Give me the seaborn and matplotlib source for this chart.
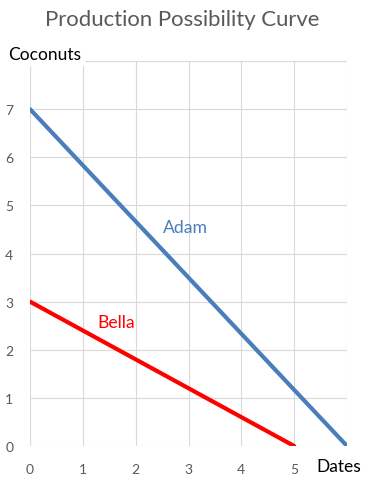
import matplotlib
matplotlib.use("Agg")
import matplotlib.pyplot as plt
import seaborn as sns
import pandas as pd

# Data
dates_adam = [0, 6]
coconuts_adam = [7, 0]
dates_bella = [0, 5]
coconuts_bella = [3, 0]
x_ticks = [0, 1, 2, 3, 4, 5]
y_ticks = [0, 1, 2, 3, 4, 5, 6, 7]

sns.set_style("white")
plt.rcParams['font.family'] = ['Lato', 'DejaVu Sans']

df = pd.concat([
    pd.DataFrame({"Dates": dates_adam, "Coconuts": coconuts_adam, "Person": "Adam"}),
    pd.DataFrame({"Dates": dates_bella, "Coconuts": coconuts_bella, "Person": "Bella"}),
])

fig = plt.figure(figsize=(3.65, 4.81), dpi=100)
ax = fig.add_axes([30/365, (481-447)/481, (347-30)/365, (447-62)/481])

sns.lineplot(data=df, x="Dates", y="Coconuts", hue="Person",
             palette={"Adam": "#4a7ebb", "Bella": "#ff0000"},
             linewidth=3, legend=False, ax=ax)

ax.set_xlim(0, 6)
ax.set_ylim(0, 8)
ax.set_xticks(range(0, 7))
ax.set_yticks(range(0, 9))
ax.set_xticklabels([str(v) for v in x_ticks] + [""])
ax.set_yticklabels([str(v) for v in y_ticks] + [""])
ax.grid(True, color="#d9d9d9", linewidth=0.8)
ax.set_axisbelow(True)
for s in ax.spines.values():
    s.set_visible(False)
ax.tick_params(axis="both", length=0, labelsize=10, labelcolor="#595959")
ax.tick_params(axis="x", pad=12)
ax.tick_params(axis="y", pad=12)
ax.set_xlabel("")
ax.set_ylabel("")

ax.text(2.95, 4.55, "Adam", color="#4a7ebb", fontsize=12.7, ha="center", va="center")
ax.text(1.63, 2.58, "Bella", color="#ff0000", fontsize=12.7, ha="center", va="center")

fig.text(8/365, 1 - 55/481, "Coconuts", fontsize=12.5, color="black", ha="left", va="center",
         bbox=dict(facecolor="white", edgecolor="none", pad=3))
fig.text(316/365, 1 - 467/481, "Dates", fontsize=12.5, color="black", ha="left", va="center",
         bbox=dict(facecolor="white", edgecolor="none", pad=2))
fig.text(0.5, 1 - 20/481, "Production Possibility Curve", fontsize=15.9, color="#595959",
         ha="center", va="center")

fig.savefig("out.png", dpi=100)
